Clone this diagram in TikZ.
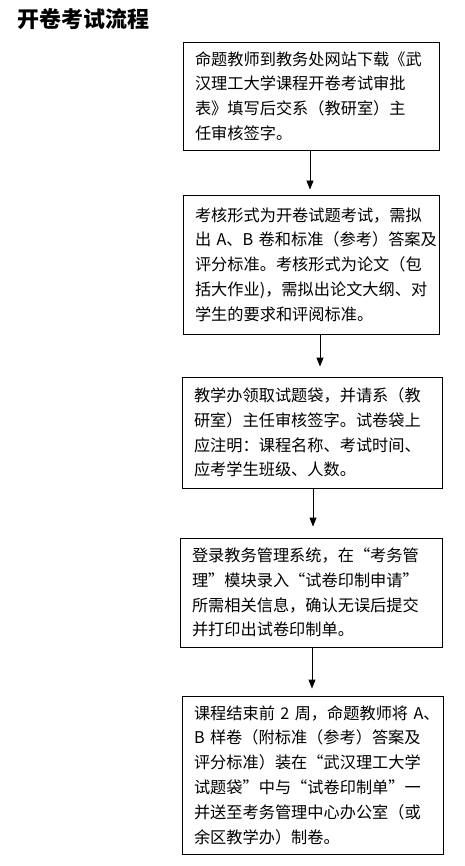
\documentclass[tikz,border=0pt]{standalone}
\usepackage{fontspec}
\setmainfont{Noto Sans CJK SC}
\usetikzlibrary{arrows.meta}

\tikzset{
  stepbox/.style={draw, line width=0.9pt, align=left, inner xsep=12pt,
    font=\fontsize{16.2}{24.8}\selectfont},
  flowarrow/.style={-{Triangle[length=9pt,width=7pt]}, line width=0.9pt}
}

\begin{document}
\begin{tikzpicture}[x=1pt,y=-1pt]
\useasboundingbox (0,0) rectangle (465,866);
% draw title
\node[anchor=west, font=\fontsize{22}{22}\selectfont\bfseries] (title) at (14,19) {开卷考试流程};
% draw steps
\node[stepbox, text width=232pt, minimum height=108pt] (b1) at (311,96) {命题教师到教务处网站下载《武\\汉理工大学课程开卷考试审批\\表》填写后交系（教研室）主\\任审核签字。};
\node[stepbox, text width=232pt, minimum height=139pt] (b2) at (311,264.5) {考核形式为开卷试题考试，需拟\\出~A、B~卷和标准（参考）答案及\\评分标准。考核形式为论文（包\\括大作业)，需拟出论文大纲、对\\学生的要求和评阅标准。};
\node[stepbox, text width=236pt, minimum height=111pt] (b3) at (312,432.5) {教学办领取试题袋，并请系（教\\研室）主任审核签字。试卷袋上\\应注明：课程名称、考试时间、\\应考学生班级、人数。};
\node[stepbox, text width=238pt, minimum height=109pt] (b4) at (311,592.5) {登录教务管理系统，在“考务管\\理”模块录入“试卷印制申请”\\所需相关信息，确认无误后提交\\并打印出试卷印制单。};
\node[stepbox, text width=237pt, minimum height=158pt] (b5) at (312.5,775) {课程结束前~2~周，命题教师将~A、\\B~样卷（附标准（参考）答案及\\评分标准）装在“武汉理工大学\\试题袋”中与“试卷印制单”一\\并送至考务管理中心办公室（或\\余区教学办）制卷。};
% draw arrows
\draw[flowarrow, shorten >=5pt] ([xshift=-1pt]b1.south) -- ([xshift=-1pt]b1.south |- b2.north);
\draw[flowarrow, shorten >=10pt] ([xshift=9pt]b2.south) -- ([xshift=9pt]b2.south |- b3.north);
\draw[flowarrow, shorten >=11pt] ([xshift=1pt]b3.south) -- ([xshift=1pt]b3.south |- b4.north);
\draw[flowarrow, shorten >=7pt] ([xshift=1pt]b4.south) -- ([xshift=1pt]b4.south |- b5.north);
\end{tikzpicture}
\end{document}
